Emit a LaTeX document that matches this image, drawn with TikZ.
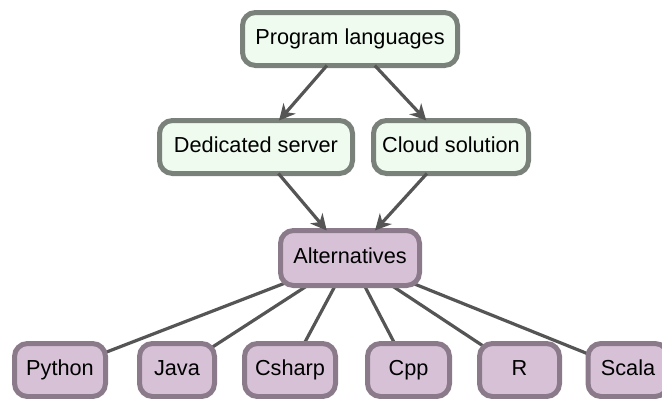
\documentclass[tikz,border=0pt]{standalone}
\usepackage{fontspec}
\setmainfont{Liberation Sans}
\usetikzlibrary{arrows.meta}
\pgfdeclarelayer{background}
\pgfsetlayers{background,main}
\definecolor{topfill}{HTML}{EFFBEF}
\definecolor{topline}{HTML}{7A817A}
\definecolor{altfill}{HTML}{D7C1D7}
\definecolor{altline}{HTML}{8A7A8A}
\definecolor{edgecol}{HTML}{555555}
\tikzset{
  box/.style={rounded corners=13pt, line width=5pt, minimum height=53pt,
    inner sep=0pt, outer sep=0pt, text height=15.5pt, text depth=4.5pt,
    font=\fontsize{21.7}{24}\selectfont},
  greenbox/.style={box, draw=topline, fill=topfill},
  purplebox/.style={box, draw=altline, fill=altfill},
  arrowedge/.style={draw=edgecol, line width=3.2pt,
    -{Stealth[length=16pt, width=16pt, inset=5pt]}},
  plainedge/.style={draw=edgecol, line width=3.2pt}
}
\begin{document}
\begin{tikzpicture}[x=1pt, y=-1pt]
\useasboundingbox (0,0) rectangle (662,399);
% upper tier
\node[greenbox, minimum width=215pt] (lang) at (350,39) {Program languages};
\node[greenbox, minimum width=193pt] (ded) at (256,147) {Dedicated server};
\node[greenbox, minimum width=155pt] (cloud) at (451,147) {Cloud solution};
% hub
\node[purplebox, minimum width=139pt, minimum height=55pt] (alt) at (350,258) {Alternatives};
% languages row
\node[purplebox, minimum width=91pt] (py) at (60,370) {Python};
\node[purplebox, minimum width=75pt] (java) at (177,370) {Java};
\node[purplebox, minimum width=91pt] (cs) at (290,370) {Csharp};
\node[purplebox, minimum width=82pt] (cpp) at (408.5,370) {Cpp};
\node[purplebox, minimum width=80pt] (r) at (519.5,370) {R};
\node[purplebox, minimum width=80pt] (scala) at (628,370) {Scala};
% arrows between tiers
\draw[arrowedge] (lang) -- (ded);
\draw[arrowedge] (lang) -- (cloud);
\draw[arrowedge] (ded) -- (alt);
\draw[arrowedge] (cloud) -- (alt);
% plain links to each language
\begin{pgfonlayer}{background}
\foreach \n in {py,java,cs,cpp,r,scala}
  \draw[plainedge] (alt.center) -- (\n.center);
\end{pgfonlayer}
\end{tikzpicture}
\end{document}
